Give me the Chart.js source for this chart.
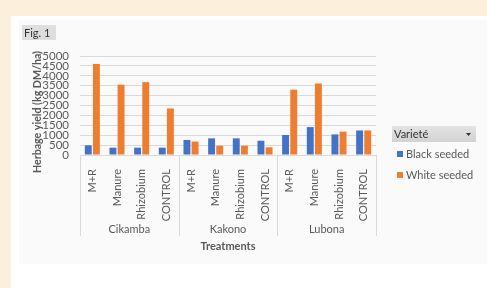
<!DOCTYPE html>
<html>
<head>
<meta charset="utf-8">
<script src="https://cdn.jsdelivr.net/npm/chart.js@4"></script>
<style>
    html, body { margin: 0; padding: 0; background: #fcefdc; }
    #wrap { width: 487px; height: 288px; position: relative; }
</style>
</head>
<body>
<div id="wrap"><canvas id="chart" width="487" height="288"></canvas></div>
<script>
// ========== 数据 ==========
const treatments = ['M+R', 'Manure', 'Rhizobium', 'CONTROL',
                    'M+R', 'Manure', 'Rhizobium', 'CONTROL',
                    'M+R', 'Manure', 'Rhizobium', 'CONTROL'];
const sites = ['Cikamba', 'Kakono', 'Lubona'];
const blackSeeded = [490, 370, 370, 370, 760, 840, 840, 720, 1010, 1410, 1040, 1240];
const whiteSeeded = [4600, 3550, 3680, 2350, 680, 470, 470, 390, 3300, 3610, 1180, 1240];
const yTicks = [0, 500, 1000, 1500, 2000, 2500, 3000, 3500, 4000, 4500, 5000];

const FONT = 'Lato, "Open Sans", sans-serif';
const TEXT = '#595959';

// 背景、分组标签、图例
const decorPlugin = {
    id: 'decor',
    beforeDraw(chart) {
        const ctx = chart.ctx;
        ctx.save();
        ctx.fillStyle = '#fcefdc';
        ctx.fillRect(0, 0, 487, 288);
        ctx.fillStyle = '#ffffff';
        ctx.fillRect(11, 16, 476, 272);
        ctx.fillStyle = '#fafafa';
        ctx.fillRect(19, 20, 468, 244);
        // Fig. 1
        ctx.fillStyle = '#dedede';
        ctx.fillRect(22, 25, 34, 15);
        ctx.fillStyle = '#333';
        ctx.font = '11px ' + FONT;
        ctx.textBaseline = 'middle';
        ctx.fillText('Fig. 1', 24, 33);
        ctx.restore();
    },
    afterDraw(chart) {
        const ctx = chart.ctx;
        const x = chart.scales.x;
        const area = chart.chartArea;
        ctx.save();

        // 分组分隔线
        const step = x.getPixelForValue(1) - x.getPixelForValue(0);
        ctx.strokeStyle = '#d9d9d9';
        ctx.lineWidth = 1;
        for (let g = 0; g <= sites.length; g++) {
            const px = Math.round(x.getPixelForValue(g * 4) - step / 2) + 0.5;
            ctx.beginPath();
            ctx.moveTo(px, area.bottom);
            ctx.lineTo(px, 236);
            ctx.stroke();
        }

        // 分组标签
        ctx.fillStyle = TEXT;
        ctx.font = '11px ' + FONT;
        ctx.textAlign = 'center';
        ctx.textBaseline = 'middle';
        sites.forEach((s, g) => {
            const cx = (x.getPixelForValue(g * 4) + x.getPixelForValue(g * 4 + 3)) / 2;
            ctx.fillText(s, cx, 229);
        });

        // 轴标题
        ctx.font = 'bold 11px ' + FONT;
        ctx.fillText('Treatments', (area.left + area.right) / 2, 246);
        ctx.save();
        ctx.translate(37, 112);
        ctx.rotate(-Math.PI / 2);
        ctx.fillText('Herbage yield (kg DM/ha)', 0, 0, 122);
        ctx.restore();

        // 图例
        const grad = ctx.createLinearGradient(0, 126, 0, 142);
        grad.addColorStop(0, '#e4e4e4');
        grad.addColorStop(1, '#d2d2d2');
        ctx.fillStyle = grad;
        ctx.fillRect(392, 126, 84, 16);
        ctx.fillStyle = '#333';
        ctx.textAlign = 'left';
        ctx.font = '11px ' + FONT;
        ctx.fillText('Varieté', 394, 134);
        ctx.beginPath();
        ctx.moveTo(466, 133);
        ctx.lineTo(471, 133);
        ctx.lineTo(468.5, 136);
        ctx.closePath();
        ctx.fill();

        const items = chart.data.datasets;
        items.forEach((ds, i) => {
            const cy = 154 + i * 21;
            ctx.fillStyle = ds.backgroundColor;
            ctx.fillRect(397, cy - 3, 6, 6);
            ctx.fillStyle = TEXT;
            ctx.font = '11px ' + FONT;
            ctx.fillText(ds.label, 406, cy);
        });
        ctx.restore();
    }
};

new Chart(document.getElementById('chart'), {
    type: 'bar',
    data: {
        labels: treatments,
        datasets: [
            { label: 'Black seeded', data: blackSeeded, backgroundColor: '#4472c4' },
            { label: 'White seeded', data: whiteSeeded, backgroundColor: '#ed7d31' }
        ]
    },
    options: {
        responsive: false,
        animation: false,
        devicePixelRatio: 1,
        layout: { padding: { top: 56, right: 111, left: 0, bottom: 0 } },
        datasets: { bar: { categoryPercentage: 0.66, barPercentage: 0.85 } },
        plugins: { legend: { display: false }, tooltip: { enabled: false } },
        scales: {
            x: {
                grid: { display: false },
                border: { display: false },
                ticks: {
                    autoSkip: false, minRotation: 90, maxRotation: 90,
                    padding: 6, color: TEXT, font: { family: FONT, size: 11 }
                },
                afterFit: s => { s.height = 133; }
            },
            y: {
                min: 0, max: 5000,
                afterBuildTicks: s => { s.ticks = yTicks.map(v => ({ value: v })); },
                grid: { color: '#d9d9d9', drawTicks: false },
                border: { display: false },
                ticks: {
                    autoSkip: false, padding: 11, color: TEXT,
                    font: { family: FONT, size: 11.5 },
                    callback: v => String(v)
                },
                afterFit: s => { s.width = 80; }
            }
        }
    },
    plugins: [decorPlugin]
});
</script>
</body>
</html>
